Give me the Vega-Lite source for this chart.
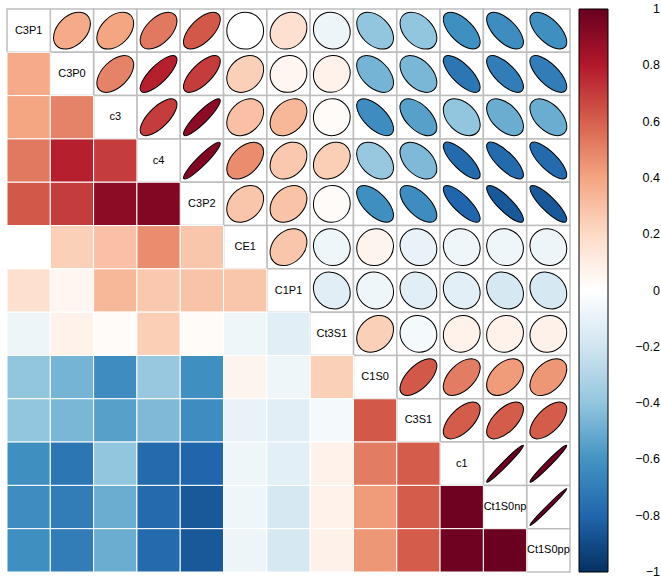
{
  "$schema": "https://vega.github.io/schema/vega-lite/v6.json",
  "width": 563,
  "height": 563,
  "autosize": {"type": "none"},
  "padding": {"left": 7, "top": 9, "right": 91, "bottom": 4},
  "background": "white",
  "config": {"view": {"stroke": null}, "font": "Liberation Sans"},
  "datasets": {
    "vars": [
      {"v": "C3P1"}, {"v": "C3P0"}, {"v": "c3"}, {"v": "c4"}, {"v": "C3P2"}, {"v": "CE1"}, {"v": "C1P1"},
      {"v": "Ct3S1"}, {"v": "C1S0"}, {"v": "C3S1"}, {"v": "c1"}, {"v": "Ct1S0np"}, {"v": "Ct1S0pp"}
    ],
    "pairs": [
      {"a": "C3P1", "b": "C3P0", "r": 0.38},
      {"a": "C3P1", "b": "c3", "r": 0.40},
      {"a": "C3P1", "b": "c4", "r": 0.53},
      {"a": "C3P1", "b": "C3P2", "r": 0.62},
      {"a": "C3P1", "b": "CE1", "r": 0.00},
      {"a": "C3P1", "b": "C1P1", "r": 0.17},
      {"a": "C3P1", "b": "Ct3S1", "r": -0.08},
      {"a": "C3P1", "b": "C1S0", "r": -0.40},
      {"a": "C3P1", "b": "C3S1", "r": -0.40},
      {"a": "C3P1", "b": "c1", "r": -0.62},
      {"a": "C3P1", "b": "Ct1S0np", "r": -0.63},
      {"a": "C3P1", "b": "Ct1S0pp", "r": -0.62},
      {"a": "C3P0", "b": "c3", "r": 0.50},
      {"a": "C3P0", "b": "c4", "r": 0.78},
      {"a": "C3P0", "b": "C3P2", "r": 0.70},
      {"a": "C3P0", "b": "CE1", "r": 0.24},
      {"a": "C3P0", "b": "C1P1", "r": 0.05},
      {"a": "C3P0", "b": "Ct3S1", "r": 0.07},
      {"a": "C3P0", "b": "C1S0", "r": -0.47},
      {"a": "C3P0", "b": "C3S1", "r": -0.46},
      {"a": "C3P0", "b": "c1", "r": -0.73},
      {"a": "C3P0", "b": "Ct1S0np", "r": -0.70},
      {"a": "C3P0", "b": "Ct1S0pp", "r": -0.70},
      {"a": "c3", "b": "c4", "r": 0.70},
      {"a": "c3", "b": "C3P2", "r": 0.90},
      {"a": "c3", "b": "CE1", "r": 0.30},
      {"a": "c3", "b": "C1P1", "r": 0.33},
      {"a": "c3", "b": "Ct3S1", "r": 0.02},
      {"a": "c3", "b": "C1S0", "r": -0.63},
      {"a": "c3", "b": "C3S1", "r": -0.55},
      {"a": "c3", "b": "c1", "r": -0.40},
      {"a": "c3", "b": "Ct1S0np", "r": -0.50},
      {"a": "c3", "b": "Ct1S0pp", "r": -0.50},
      {"a": "c4", "b": "C3P2", "r": 0.93},
      {"a": "c4", "b": "CE1", "r": 0.47},
      {"a": "c4", "b": "C1P1", "r": 0.27},
      {"a": "c4", "b": "Ct3S1", "r": 0.25},
      {"a": "c4", "b": "C1S0", "r": -0.38},
      {"a": "c4", "b": "C3S1", "r": -0.45},
      {"a": "c4", "b": "c1", "r": -0.78},
      {"a": "c4", "b": "Ct1S0np", "r": -0.78},
      {"a": "c4", "b": "Ct1S0pp", "r": -0.78},
      {"a": "C3P2", "b": "CE1", "r": 0.28},
      {"a": "C3P2", "b": "C1P1", "r": 0.29},
      {"a": "C3P2", "b": "Ct3S1", "r": 0.02},
      {"a": "C3P2", "b": "C1S0", "r": -0.62},
      {"a": "C3P2", "b": "C3S1", "r": -0.63},
      {"a": "C3P2", "b": "c1", "r": -0.80},
      {"a": "C3P2", "b": "Ct1S0np", "r": -0.85},
      {"a": "C3P2", "b": "Ct1S0pp", "r": -0.85},
      {"a": "CE1", "b": "C1P1", "r": 0.28},
      {"a": "CE1", "b": "Ct3S1", "r": -0.07},
      {"a": "CE1", "b": "C1S0", "r": 0.06},
      {"a": "CE1", "b": "C3S1", "r": -0.10},
      {"a": "CE1", "b": "c1", "r": -0.07},
      {"a": "CE1", "b": "Ct1S0np", "r": -0.07},
      {"a": "CE1", "b": "Ct1S0pp", "r": -0.08},
      {"a": "C1P1", "b": "Ct3S1", "r": -0.13},
      {"a": "C1P1", "b": "C1S0", "r": -0.07},
      {"a": "C1P1", "b": "C3S1", "r": -0.13},
      {"a": "C1P1", "b": "c1", "r": -0.12},
      {"a": "C1P1", "b": "Ct1S0np", "r": -0.18},
      {"a": "C1P1", "b": "Ct1S0pp", "r": -0.18},
      {"a": "Ct3S1", "b": "C1S0", "r": 0.24},
      {"a": "Ct3S1", "b": "C3S1", "r": -0.05},
      {"a": "Ct3S1", "b": "c1", "r": 0.07},
      {"a": "Ct3S1", "b": "Ct1S0np", "r": 0.07},
      {"a": "Ct3S1", "b": "Ct1S0pp", "r": 0.08},
      {"a": "C1S0", "b": "C3S1", "r": 0.62},
      {"a": "C1S0", "b": "c1", "r": 0.52},
      {"a": "C1S0", "b": "Ct1S0np", "r": 0.43},
      {"a": "C1S0", "b": "Ct1S0pp", "r": 0.44},
      {"a": "C3S1", "b": "c1", "r": 0.61},
      {"a": "C3S1", "b": "Ct1S0np", "r": 0.61},
      {"a": "C3S1", "b": "Ct1S0pp", "r": 0.61},
      {"a": "c1", "b": "Ct1S0np", "r": 0.98},
      {"a": "c1", "b": "Ct1S0pp", "r": 0.98},
      {"a": "Ct1S0np", "b": "Ct1S0pp", "r": 0.99}
    ]
  },
  "layer": [
    {
      "data": {"name": "pairs"},
      "mark": {"type": "rect", "fill": "white", "stroke": "#bebebe", "strokeWidth": 1.5},
      "encoding": {
        "x": {"field": "b", "type": "nominal", "axis": null, "scale": {"type": "band", "domain": ["C3P1","C3P0","c3","c4","C3P2","CE1","C1P1","Ct3S1","C1S0","C3S1","c1","Ct1S0np","Ct1S0pp"], "paddingInner": 0, "paddingOuter": 0}},
        "y": {"field": "a", "type": "nominal", "axis": null, "scale": {"type": "band", "domain": ["C3P1","C3P0","c3","c4","C3P2","CE1","C1P1","Ct3S1","C1S0","C3S1","c1","Ct1S0np","Ct1S0pp"], "paddingInner": 0, "paddingOuter": 0}}
      }
    },
    {
      "data": {"name": "vars"},
      "mark": {"type": "rect", "fill": "white", "stroke": "#bebebe", "strokeWidth": 1.5},
      "encoding": {
        "x": {"field": "v", "type": "nominal", "axis": null},
        "y": {"field": "v", "type": "nominal", "axis": null}
      }
    },
    {
      "data": {"name": "pairs"},
      "mark": {"type": "rect", "stroke": "white", "strokeWidth": 1},
      "encoding": {
        "x": {"field": "a", "type": "nominal", "axis": null},
        "y": {"field": "b", "type": "nominal", "axis": null},
        "color": {
          "field": "r", "type": "quantitative",
          "scale": {"domain": [-1,-0.8,-0.6,-0.4,-0.2,0,0.2,0.4,0.6,0.8,1], "range": ["#053061","#2166AC","#4393C3","#92C5DE","#D1E5F0","#FFFFFF","#FDDBC7","#F4A582","#D6604D","#B2182B","#67001F"], "interpolate": "rgb"},
          "legend": {
            "orient": "none", "legendX": 572, "legendY": 0, "direction": "vertical",
            "gradientLength": 563, "gradientThickness": 29, "title": null,
            "values": [-1,-0.8,-0.6,-0.4,-0.2,0,0.2,0.4,0.6,0.8,1], "format": "~g",
            "labelOffset": 30, "labelFontSize": 12.5, "labelColor": "black",
            "labelFont": "Liberation Sans", "gradientStrokeColor": "black", "gradientStrokeWidth": 1,
            "labelOverlap": false,
            "encode": {
              "labels": {
                "update": {
                  "align": {"value": "right"},
                  "baseline": {"value": "middle"},
                  "x": {"value": 81}
                }
              }
            }
          }
        }
      }
    },
    {
      "data": {"name": "pairs"},
      "transform": [
        {"calculate": "acos(abs(datum.r)) / 2", "as": "d"},
        {"calculate": "0.85 * cos(datum.d) / sqrt(2)", "as": "A"},
        {"calculate": "0.85 * sin(datum.d) / sqrt(2)", "as": "B"},
        {"calculate": "'M ' + (-datum.A) + ' 0 A ' + datum.A + ' ' + datum.B + ' 0 1 0 ' + datum.A + ' 0 A ' + datum.A + ' ' + datum.B + ' 0 1 0 ' + (-datum.A) + ' 0 Z'", "as": "path"},
        {"calculate": "datum.r >= 0 ? 315 : 45", "as": "ang"}
      ],
      "mark": {"type": "point", "filled": true, "stroke": "black", "strokeWidth": 1, "opacity": 1},
      "encoding": {
        "x": {"field": "b", "type": "nominal", "axis": null},
        "y": {"field": "a", "type": "nominal", "axis": null},
        "shape": {"field": "path", "type": "nominal", "scale": null},
        "angle": {"field": "ang", "type": "quantitative", "scale": null},
        "size": {"value": 7503},
        "color": {"field": "r", "type": "quantitative"}
      }
    },
    {
      "data": {"name": "vars"},
      "mark": {"type": "text", "fontSize": 11, "color": "black", "font": "Liberation Sans"},
      "encoding": {
        "x": {"field": "v", "type": "nominal", "axis": null},
        "y": {"field": "v", "type": "nominal", "axis": null},
        "text": {"field": "v"}
      }
    }
  ]
}
